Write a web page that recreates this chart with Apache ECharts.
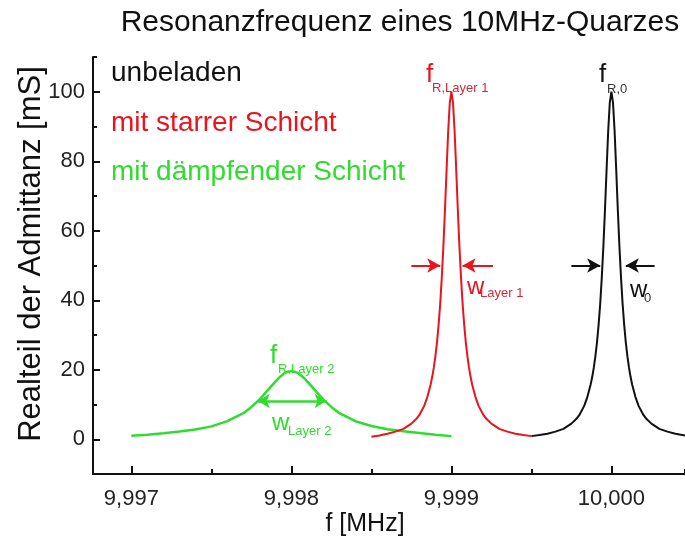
<!DOCTYPE html>
<html>
<head>
<meta charset="utf-8">
<script src="https://cdn.jsdelivr.net/npm/echarts@6/dist/echarts.min.js"></script>
<style>
  html, body { margin: 0; padding: 0; background: #fff; }
  #chart { width: 685px; height: 542px; }
</style>
</head>
<body>
<div id="chart"></div>
<script>
// frequency in MHz, real part of admittance in mS
const freqUnloaded = [9.9995, 9.99955, 9.9996, 9.99965, 9.9997, 9.99975, 9.99978, 9.9998, 9.99983, 9.99985, 9.99987, 9.99988,
  9.99989, 9.9999, 9.99991, 9.99992, 9.99993, 9.99994, 9.99995, 9.99996, 9.99997, 9.99998, 9.99999, 10.0,
  10.00001, 10.00002, 10.00003, 10.00004, 10.00005, 10.00006, 10.00007, 10.00008, 10.00009, 10.0001, 10.00011,
  10.00012, 10.00013, 10.00015, 10.00017, 10.0002, 10.00022, 10.00025, 10.0003, 10.00035, 10.0004, 10.00046];
const admUnloaded = [0.9, 1.2, 1.6, 2.2, 3.0, 4.5, 5.8, 7.0, 9.6, 12.2, 15.7, 17.9,
  20.6, 23.9, 27.9, 32.9, 39.0, 46.6, 55.6, 66.2, 77.7, 88.7, 96.9, 100,
  96.9, 88.7, 77.7, 66.2, 55.6, 46.6, 39.0, 32.9, 27.9, 23.9, 20.6,
  17.9, 15.7, 12.2, 9.6, 7.0, 5.8, 4.5, 3.0, 2.2, 1.6, 1.1];

const freqRigid = [9.9985, 9.99855, 9.9986, 9.99865, 9.9987, 9.99875, 9.99878, 9.9988, 9.99883, 9.99885, 9.99887, 9.99888,
  9.99889, 9.9989, 9.99891, 9.99892, 9.99893, 9.99894, 9.99895, 9.99896, 9.99897, 9.99898, 9.99899, 9.999,
  9.99901, 9.99902, 9.99903, 9.99904, 9.99905, 9.99906, 9.99907, 9.99908, 9.99909, 9.9991, 9.99911,
  9.99912, 9.99913, 9.99915, 9.99917, 9.9992, 9.99922, 9.99925, 9.9993, 9.99935, 9.9994, 9.99945, 9.9995];
const admRigid = [0.7, 1.1, 1.6, 2.2, 3.0, 4.5, 5.8, 7.0, 9.6, 12.2, 15.7, 17.9,
  20.6, 23.9, 27.9, 32.9, 39.0, 46.6, 55.6, 66.2, 77.7, 88.7, 96.9, 100,
  96.9, 88.7, 77.7, 66.2, 55.6, 46.6, 39.0, 32.9, 27.9, 23.9, 20.6,
  17.9, 15.7, 12.2, 9.6, 7.0, 5.8, 4.5, 3.0, 2.2, 1.6, 1.2, 0.9];

const freqDamped = [9.997, 9.9971, 9.9972, 9.9973, 9.9974, 9.9975, 9.9976, 9.9977, 9.99775, 9.9978, 9.99785, 9.9979, 9.99793, 9.99796, 9.99798, 9.998,
  9.99802, 9.99804, 9.99807, 9.9981, 9.99815, 9.9982, 9.99825, 9.9983, 9.9984, 9.9985, 9.9986, 9.9987, 9.9988, 9.9989, 9.999];
const admDamped = [1.0, 1.3, 1.7, 2.2, 2.8, 3.7, 5.2, 7.5, 9.3, 11.4, 14.0, 16.6, 18.0, 19.1, 19.45, 19.6,
  19.45, 19.1, 18.0, 16.6, 14.0, 11.4, 9.3, 7.5, 5.2, 3.8, 2.9, 2.3, 1.8, 1.3, 0.9];

// half width arrows: [from, to] in MHz, at height in mS
const arrowsRigid = [[9.99875, 9.99893], [9.99926, 9.99907]];
const arrowsUnloaded = [[9.99975, 9.99993], [10.00027, 10.00009]];
const arrowDamped = [9.99779, 9.99822];
const arrowHeight = 50;
const arrowHeightDamped = 11;

const xMin = 9.99676, xMax = 10.00046;
const yMin = -10, yMax = 110;

const zip = (xs, ys) => xs.map((x, i) => [x, ys[i]]);
const fmt = v => v.toFixed(3).replace('.', ',');

const RED = '#e8141e';
const GREEN = '#2fdc2f';
const BLACK = '#111';
const FONT = 'Liberation Sans, Arial, sans-serif';

function arrowLines(pairs, y) {
  return pairs.map(p => [{ coord: [p[0], y] }, { coord: [p[1], y] }]);
}

function txt(text, x, y, size, color, align) {
  return {
    type: 'text', x: x, y: y, silent: true,
    style: { text: text, fill: color, font: size + 'px ' + FONT, textAlign: align || 'left', textVerticalAlign: 'middle' }
  };
}

const gridPos = { left: 93, right: 0, top: 57, bottom: 68 };

let myChart = echarts.init(document.getElementById('chart'));
let option = {
  animation: false,
  textStyle: { fontFamily: FONT },
  grid: [
    Object.assign({}, gridPos),
    Object.assign({}, gridPos)
  ],
  xAxis: [
    {
      type: 'value', gridIndex: 0, min: xMin, max: xMax, splitNumber: 4,
      axisLine: { onZero: false, lineStyle: { color: BLACK, width: 2 } },
      axisTick: { inside: true, length: 8, lineStyle: { color: BLACK, width: 2 } },
      axisLabel: { formatter: fmt, fontSize: 22, color: '#222', margin: 14, showMinLabel: false, showMaxLabel: false },
      splitLine: { show: false }
    },
    {
      // minor ticks only
      type: 'value', gridIndex: 1, min: xMin, max: xMax, splitNumber: 8,
      axisLine: { show: false, onZero: false },
      axisTick: { inside: true, length: 5, lineStyle: { color: BLACK, width: 2 } },
      axisLabel: { show: false },
      splitLine: { show: false }
    }
  ],
  yAxis: [
    {
      type: 'value', gridIndex: 0, min: yMin, max: yMax, splitNumber: 6,
      axisLine: { show: true, onZero: false, lineStyle: { color: BLACK, width: 2 } },
      axisTick: { show: true, inside: true, length: 7, lineStyle: { color: BLACK, width: 2 } },
      axisLabel: { fontSize: 22, color: '#222', margin: 8, showMinLabel: false, showMaxLabel: false },
      splitLine: { show: false }
    },
    {
      type: 'value', gridIndex: 1, min: yMin, max: yMax, splitNumber: 12,
      axisLine: { show: false, onZero: false },
      axisTick: { show: true, inside: true, length: 4, lineStyle: { color: BLACK, width: 2 } },
      axisLabel: { show: false },
      splitLine: { show: false }
    }
  ],
  series: [
    {
      name: 'mit dämpfender Schicht', type: 'line', xAxisIndex: 0, yAxisIndex: 0,
      data: zip(freqDamped, admDamped), showSymbol: false,
      lineStyle: { color: GREEN, width: 2.5 },
      markLine: {
        silent: true, symbol: ['arrow', 'arrow'], symbolSize: [11, 12], label: { show: false },
        lineStyle: { color: GREEN, width: 2.5, type: 'solid' },
        data: arrowLines([arrowDamped], arrowHeightDamped)
      }
    },
    {
      name: 'mit starrer Schicht', type: 'line', xAxisIndex: 0, yAxisIndex: 0,
      data: zip(freqRigid, admRigid), showSymbol: false,
      lineStyle: { color: RED, width: 2 },
      markLine: {
        silent: true, symbol: ['none', 'arrow'], symbolSize: [11, 13], label: { show: false },
        lineStyle: { color: RED, width: 2, type: 'solid' },
        data: arrowLines(arrowsRigid, arrowHeight)
      }
    },
    {
      name: 'unbeladen', type: 'line', xAxisIndex: 0, yAxisIndex: 0,
      data: zip(freqUnloaded, admUnloaded), showSymbol: false,
      lineStyle: { color: BLACK, width: 2 },
      markLine: {
        silent: true, symbol: ['none', 'arrow'], symbolSize: [11, 13], label: { show: false },
        lineStyle: { color: BLACK, width: 2, type: 'solid' },
        data: arrowLines(arrowsUnloaded, arrowHeight)
      }
    }
  ],
  graphic: [
    txt('Resonanzfrequenz eines 10MHz-Quarzes', 400, 23, 30, '#111', 'center'),
    txt('unbeladen', 111, 73, 28, BLACK),
    txt('mit starrer Schicht', 111, 123, 28, RED),
    txt('mit dämpfender Schicht', 111, 172, 28, GREEN),
    { type: 'text', x: 31, y: 254, rotation: Math.PI / 2, silent: true,
      style: { text: 'Realteil der Admittanz [mS]', fill: '#111', font: '31px ' + FONT, textAlign: 'center', textVerticalAlign: 'middle' } },
    txt('f [MHz]', 365, 524, 25, '#111', 'center'),
    // peak labels
    txt('f', 426, 75, 26, RED),
    txt('R,Layer 1', 432, 88, 13, '#d0283a'),
    txt('f', 599, 75, 26, BLACK),
    txt('R,0', 607, 89, 13, '#333'),
    txt('f', 270, 356, 26, GREEN),
    txt('R,Layer 2', 278, 369, 13, GREEN),
    // width labels
    txt('w', 467, 287, 24, RED),
    txt('Layer 1', 480, 293, 13, '#d0283a'),
    txt('w', 630, 290, 24, BLACK),
    txt('0', 644, 298, 13, '#333'),
    txt('w', 272, 423, 24, GREEN),
    txt('Layer 2', 288, 431, 13, GREEN)
  ]
};
myChart.setOption(option);
</script>
</body>
</html>
